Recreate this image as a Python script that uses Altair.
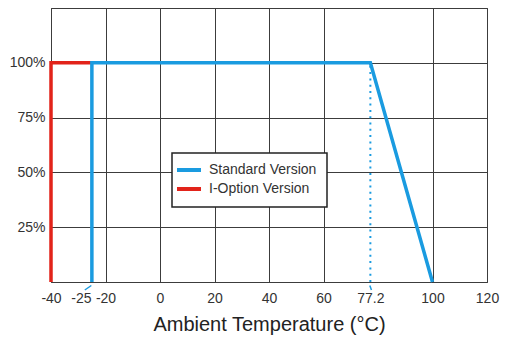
import altair as alt
import pandas as pd

# ---- data ----
series_names = ["Standard Version", "I-Option Version"]
std_temp = [-25, -25, 77.2, 100]
std_load = [0, 100, 100, 0]
iopt_temp = [-40, -40, -25]
iopt_load = [0, 100, 100]
knee_temp = [77.2]
knee_lo = [0]
knee_hi = [100]
x_ticks = [-40, -25, -20, 0, 20, 40, 60, 77.2, 100, 120]
y_ticks = [0, 25, 50, 75, 100, 125]
leader_x1 = [-25.2, 77.0]
leader_x2 = [-27.6, 77.6]

BLUE = "#1a9be0"
RED = "#e2231a"
GRID = "#3c3c3c"
FONT = "Liberation Sans"

rows = []
for i, (t, l) in enumerate(zip(iopt_temp, iopt_load)):
    rows.append({"series": series_names[1], "temp": t, "load": l, "ord": i})
for i, (t, l) in enumerate(zip(std_temp, std_load)):
    rows.append({"series": series_names[0], "temp": t, "load": l, "ord": i})
df = pd.DataFrame(rows)

knee_df = pd.DataFrame({"temp": knee_temp, "lo": knee_lo, "hi": knee_hi})
leader_df = pd.DataFrame({"x1": leader_x1, "x2": leader_x2})

W = 436
H = 274

x_scale = alt.Scale(domain=[-40, 120], nice=False, zero=False)
y_scale = alt.Scale(domain=[0, 125], nice=False, zero=True)

x_axis = alt.Axis(
    values=x_ticks,
    title="Ambient Temperature (°C)",
    titleFont=FONT, titleFontSize=20, titleFontWeight="normal", titleColor="#222",
    titlePadding=9,
    labelFont=FONT, labelFontSize=14, labelColor="#333",
    labelPadding=9, labelOverlap=False, labelFlush=False, labelBound=False,
    labelExpr="'' + datum.value",
    labelOffset={"condition": {"test": "datum.value == -25", "value": -11}, "value": 0},
    ticks=False, domain=False,
    grid=True, gridColor=GRID, gridWidth=1,
    gridOpacity={"condition": {"test": "datum.value == -25 || datum.value == 77.2", "value": 0}, "value": 1},
)
y_axis = alt.Axis(
    values=y_ticks,
    title=None,
    labelFont=FONT, labelFontSize=14, labelColor="#333",
    labelPadding=6, labelOverlap=False, labelFlush=False,
    labelExpr="datum.value == 0 || datum.value == 125 ? '' : datum.value + '%'",
    ticks=False, domain=False,
    grid=True, gridColor=GRID, gridWidth=1,
)

lines = alt.Chart(df).mark_line(strokeWidth=3.5, strokeJoin="miter", strokeCap="butt").encode(
    x=alt.X("temp:Q", scale=x_scale, axis=x_axis),
    y=alt.Y("load:Q", scale=y_scale, axis=y_axis),
    color=alt.Color(
        "series:N",
        scale=alt.Scale(domain=series_names, range=[BLUE, RED]),
        legend=alt.Legend(
            title=None, orient="none", legendX=121, legendY=145,
            fillColor="white", strokeColor="#222", padding=10,
            symbolType="M-2.4,0H2.4", symbolStrokeWidth=4, symbolSize=100,
            labelFont=FONT, labelFontSize=14, labelColor="#333",
            labelOffset=13, rowPadding=3,
        ),
    ),
    order="ord:O",
)

knee = alt.Chart(knee_df).mark_rule(color=BLUE, strokeWidth=2, strokeDash=[2, 4.3]).encode(
    x="temp:Q", y="lo:Q", y2="hi:Q"
)

leaders = alt.Chart(leader_df).mark_rule(color=BLUE, strokeWidth=1.5).encode(
    x="x1:Q", x2="x2:Q", y=alt.value(H + 3.5), y2=alt.value(H + 8)
)

chart = alt.layer(knee, lines, leaders).properties(
    width=W, height=H,
    padding={"left": 43, "top": 0, "right": 13, "bottom": 55},
    autosize=alt.AutoSizeParams(type="none"),
).configure_view(stroke=GRID, strokeWidth=1).configure_legend(strokeWidth=1.5)

chart.save("out.html", embed_options={"renderer": "svg", "actions": False})
